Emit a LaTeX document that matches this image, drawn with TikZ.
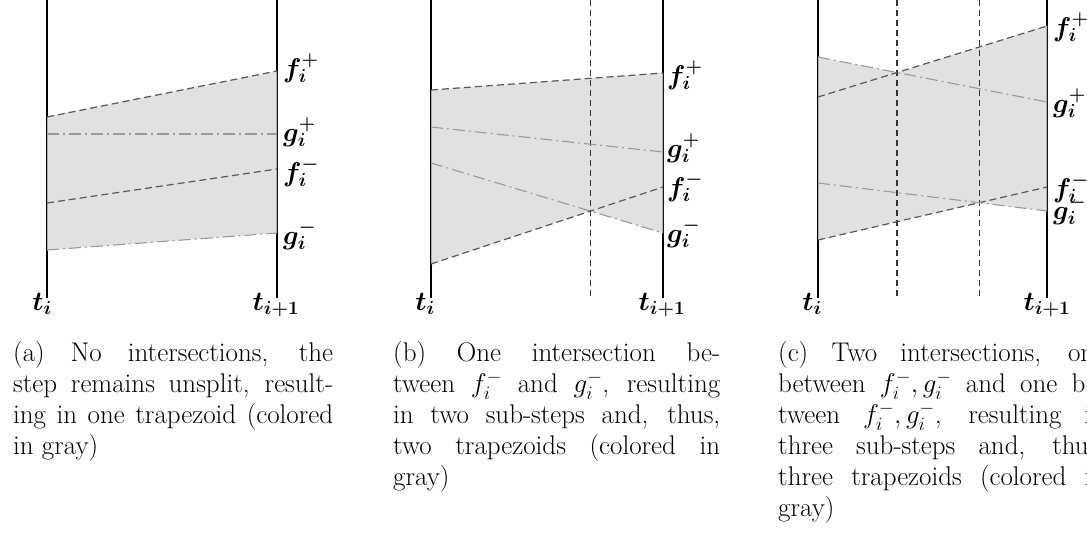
\RequirePackage{fix-cm}
\documentclass[tikz,border=0pt]{standalone}
\usepackage{bm}
\begin{document}
\begin{tikzpicture}[x=1pt,y=-1pt,
 axisline/.style={line width=1.3pt,draw=black},
 fline/.style={line width=1.2pt,draw=black!65,dash pattern=on 7pt off 4pt},
 gline/.style={line width=1.1pt,draw=black!40,dash pattern=on 12pt off 4pt on 2pt off 4pt},
 splitline/.style={line width=1.2pt,draw=black!80,dash pattern=on 6pt off 4pt},
 trapregion/.style={fill=black!15,fill opacity=0.8},
 lab/.style={anchor=west,inner sep=0pt,font=\fontsize{27}{31}\selectfont},
 tlab/.style={anchor=base,inner sep=0pt,font=\fontsize{27}{31}\selectfont},
 captext/.style={anchor=north west,inner sep=0pt,align=justify,font=\fontsize{27}{31}\selectfont}]
\useasboundingbox (0,0) rectangle (1087,536);
\clip (0,0) rectangle (1087,536);

% ---------- panel (a)
\coordinate (aL0) at (47,0);  \coordinate (aL1) at (47,298);
\coordinate (aR0) at (277,0); \coordinate (aR1) at (277,298);
\coordinate (afpL) at (47,117); \coordinate (afpR) at (277,71);
\coordinate (agpL) at (47,134); \coordinate (agpR) at (277,134);
\coordinate (afmL) at (47,203); \coordinate (afmR) at (277,169);
\coordinate (agmL) at (47,250); \coordinate (agmR) at (277,233);
\draw[axisline] (aL0) -- (aL1);
\draw[axisline] (aR0) -- (aR1);
\fill[trapregion] (afpL) -- (afpR) -- (agmR) -- (agmL) -- cycle;
\draw[fline] (afpL) -- (afpR);
\draw[gline] (agpL) -- (agpR);
\draw[fline] (afmL) -- (afmR);
\draw[gline] (agmL) -- (agmR);
\node[lab] (afp) at (283,68) {$\bm{f_i^+}$};
\node[lab] (agp) at (283,132) {$\bm{g_i^+}$};
\node[lab] (afm) at (283,172) {$\bm{f_i^-}$};
\node[lab] (agm) at (283,235) {$\bm{g_i^-}$};
\node[tlab] (ati) at (42,310) {$\bm{t_i}$};
\node[tlab] (ati1) at (276,310) {$\bm{t_{i+1}}$};
\node[captext,text width=320pt] (acap) at (13,341) {(a) No intersections, the\linebreak step remains unsplit, result-\linebreak ing in one trapezoid (colored\linebreak in gray)};

% ---------- panel (b)
\coordinate (bL0) at (431,0);  \coordinate (bL1) at (431,298);
\coordinate (bR0) at (663,0);  \coordinate (bR1) at (663,298);
\coordinate (bfpL) at (431,90);  \coordinate (bfpR) at (663,73);
\coordinate (bgpL) at (431,127); \coordinate (bgpR) at (663,152);
\coordinate (bgmL) at (431,163); \coordinate (bgmR) at (663,233);
\coordinate (bfmL) at (431,264); \coordinate (bfmR) at (663,187);
\coordinate (bX) at (intersection of bgmL--bgmR and bfmL--bfmR);
\draw[axisline] (bL0) -- (bL1);
\draw[axisline] (bR0) -- (bR1);
\fill[trapregion] (bfpL) -- (bfpR) -- (bgmR) -- (bX) -- (bfmL) -- cycle;
\draw[splitline] (bX |- bL0) -- (bX |- bL1);
\draw[fline] (bfpL) -- (bfpR);
\draw[gline] (bgpL) -- (bgpR);
\draw[gline] (bgmL) -- (bgmR);
\draw[fline] (bfmL) -- (bfmR);
\node[lab] (bfp) at (667,75) {$\bm{f_i^+}$};
\node[lab] (bgp) at (667,148) {$\bm{g_i^+}$};
\node[lab] (bfm) at (667,187) {$\bm{f_i^-}$};
\node[lab] (bgm) at (667,233) {$\bm{g_i^-}$};
\node[tlab] (bti) at (425,310) {$\bm{t_i}$};
\node[tlab] (bti1) at (662,310) {$\bm{t_{i+1}}$};
\node[captext,text width=327pt] (bcap) at (393,341) {(b) One intersection be-\linebreak tween $f_i^-$ and $g_i^-$, resulting\linebreak in two sub-steps and, thus,\linebreak two trapezoids (colored in\linebreak gray)};

% ---------- panel (c)
\coordinate (cL0) at (818,0);  \coordinate (cL1) at (818,298);
\coordinate (cR0) at (1047,0); \coordinate (cR1) at (1047,298);
\coordinate (cfpL) at (818,97);  \coordinate (cfpR) at (1047,26);
\coordinate (cgpL) at (818,57);  \coordinate (cgpR) at (1047,102);
\coordinate (cfmL) at (818,240); \coordinate (cfmR) at (1047,187);
\coordinate (cgmL) at (818,183); \coordinate (cgmR) at (1047,211);
\coordinate (cX1) at (intersection of cfpL--cfpR and cgpL--cgpR);
\coordinate (cX2) at (intersection of cfmL--cfmR and cgmL--cgmR);
\draw[axisline] (cL0) -- (cL1);
\draw[axisline] (cR0) -- (cR1);
\fill[trapregion] (cgpL) -- (cX1) -- (cfpR) -- (cgmR) -- (cX2) -- (cfmL) -- cycle;
\draw[splitline] (cX1 |- cL0) -- (cX1 |- cL1);
\draw[splitline] (cX2 |- cL0) -- (cX2 |- cL1);
\draw[fline] (cfpL) -- (cfpR);
\draw[gline] (cgpL) -- (cgpR);
\draw[fline] (cfmL) -- (cfmR);
\draw[gline] (cgmL) -- (cgmR);
\node[lab] (cfp) at (1053,27) {$\bm{f_i^+}$};
\node[lab] (cgp) at (1053,103) {$\bm{g_i^+}$};
\node[lab] (cfm) at (1053,188) {$\bm{f_i^-}$};
\node[lab] (cgm) at (1053,210) {$\bm{g_i^-}$};
\node[tlab] (cti) at (812,310) {$\bm{t_i}$};
\node[tlab] (cti1) at (1047,310) {$\bm{t_{i+1}}$};
\node[captext,text width=327pt] (ccap) at (778,341) {(c) Two intersections, one\linebreak between $f_i^-, g_i^-$ and one be-\linebreak tween $f_i^-, g_i^-$, resulting in\linebreak three sub-steps and, thus,\linebreak three trapezoids (colored in\linebreak gray)};
\end{tikzpicture}
\end{document}
